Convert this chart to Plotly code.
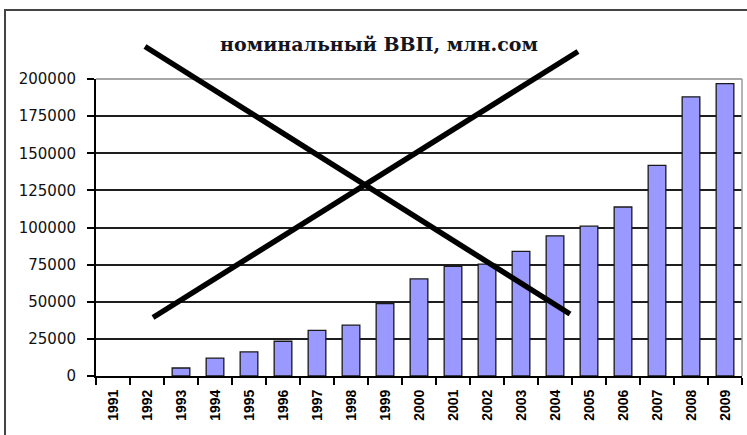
import plotly.graph_objects as go

years = ["1991", "1992", "1993", "1994", "1995", "1996", "1997", "1998", "1999", "2000",
         "2001", "2002", "2003", "2004", "2005", "2006", "2007", "2008", "2009"]
gdp = [None, None, 5400, 12000, 16200, 23400, 30700, 34200, 48800, 65400,
       73900, 75400, 83900, 94400, 100900, 113800, 141900, 188000, 196900]
y_ticks = [0, 25000, 50000, 75000, 100000, 125000, 150000, 175000, 200000]
title_text = "номинальный ВВП, млн.сом"

fig = go.Figure()
fig.add_trace(go.Bar(
    x=years, y=gdp,
    marker=dict(color="#9999FF", line=dict(color="#1a1a1a", width=1.3)),
))

W, H = 747, 435
L, R, T, B = 96, 5, 79, 59

def px(x):
    return (x - L) / (W - L - R)

def py(y):
    return (H - B - y) / (H - T - B)

shapes = []
# outer chart border
shapes.append(dict(type="rect", xref="paper", yref="paper",
                   x0=px(5), x1=px(760), y0=py(450), y1=py(10),
                   line=dict(color="#444444", width=2), layer="above"))
# plot-area top and right border (gray)
shapes.append(dict(type="line", xref="paper", yref="paper", x0=0, x1=1, y0=1, y1=1,
                   line=dict(color="#8a8a8a", width=1.5), layer="above"))
shapes.append(dict(type="line", xref="paper", yref="paper", x0=1, x1=1, y0=0, y1=1,
                   line=dict(color="#9a9a9a", width=1.5), layer="above"))
# crossing lines
shapes.append(dict(type="line", xref="paper", yref="paper",
                   x0=px(145), y0=py(46.5), x1=px(570), y1=py(314),
                   line=dict(color="black", width=5.5), layer="above"))
shapes.append(dict(type="line", xref="paper", yref="paper",
                   x0=px(153), y0=py(317.5), x1=px(578), y1=py(51.5),
                   line=dict(color="black", width=5.5), layer="above"))

fig.update_layout(
    width=W, height=H,
    margin=dict(l=L, r=R, t=T, b=B, autoexpand=False),
    paper_bgcolor="white", plot_bgcolor="white",
    showlegend=False,
    bargap=0.48,
    shapes=shapes,
    title=dict(text=title_text, x=379 / W, xanchor="center",
               y=1 - 44 / H, yanchor="middle",
               font=dict(family="DejaVu Serif", size=19, color="#15151f", weight="bold")),
    xaxis=dict(
        type="category",
        tickangle=-90,
        tickson="boundaries",
        ticks="outside", ticklen=7, tickwidth=2, tickcolor="black",
        showline=True, linecolor="black", linewidth=2,
        showgrid=False,
        automargin=False,
        tickfont=dict(family="Liberation Sans", size=14, color="black", weight="bold"),
        ticklabelstandoff=6,
    ),
    yaxis=dict(
        range=[0, 200000],
        tickvals=y_ticks,
        ticktext=[str(v) for v in y_ticks],
        ticks="outside", ticklen=7, tickwidth=2, tickcolor="black",
        showline=True, linecolor="black", linewidth=2,
        showgrid=True, gridcolor="#1e1e1e", gridwidth=1.5,
        zeroline=False,
        automargin=False,
        tickfont=dict(family="DejaVu Sans", size=15, color="#111111"),
        ticklabelstandoff=8,
    ),
)

fig.write_html("out.html", config={"displayModeBar": False},
               post_script="document.body.style.margin='0';")
